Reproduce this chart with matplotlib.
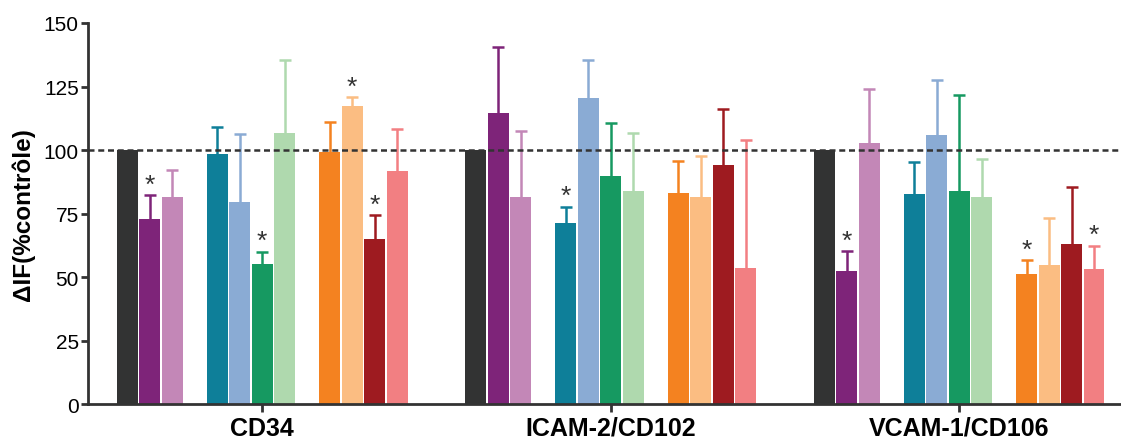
import matplotlib
matplotlib.use("Agg")
import matplotlib.pyplot as plt
import numpy as np

plt.rcParams['font.family'] = ['Liberation Sans', 'DejaVu Sans']

groups = ["CD34", "ICAM-2/CD102", "VCAM-1/CD106"]
series_colors = ["#323333", "#7e2479", "#c387b7",
                 "#0e7f99", "#8aabd4", "#169961", "#afd9ae",
                 "#f48220", "#fbbd82", "#9e1b20", "#f27f82"]

cd34_vals = [100, 73.1, 81.5, 98.3, 79.7, 55.1, 106.7, 99.1, 117.5, 65.0, 91.7]
cd34_err = [0, 9.1, 10.8, 10.9, 26.5, 4.9, 28.9, 11.8, 3.2, 9.4, 16.5]
cd34_star = [0, 1, 0, 0, 0, 1, 0, 0, 1, 1, 0]

icam_vals = [100, 114.7, 81.4, 71.4, 120.6, 90.0, 83.9, 83.3, 81.6, 94.0, 53.7]
icam_err = [0, 26.0, 26.0, 6.3, 15.0, 20.5, 22.7, 12.6, 16.2, 22.1, 50.1]
icam_star = [0, 0, 0, 1, 0, 0, 0, 0, 0, 0, 0]

vcam_vals = [100, 52.6, 102.9, 82.7, 105.8, 83.9, 81.6, 51.2, 54.9, 63.0, 53.4]
vcam_err = [0, 7.6, 21.3, 12.7, 21.6, 37.6, 14.9, 5.5, 18.5, 22.4, 9.0]
vcam_star = [0, 1, 0, 0, 0, 0, 0, 1, 0, 0, 1]

values = [cd34_vals, icam_vals, vcam_vals]
errors = [cd34_err, icam_err, vcam_err]
stars = [cd34_star, icam_star, vcam_star]

yticks = [0, 25, 50, 75, 100, 125, 150]

# layout: slot offsets inside a group (subgroups of 3, 4, 4 separated by one empty slot)
slot_offsets = np.array([0, 1, 2, 4, 5, 6, 7, 9, 10, 11, 12], dtype=float)
group_step = 15.5
bar_w = 0.93

fig = plt.figure(figsize=(11.21, 4.39), dpi=100)
ax = fig.add_axes([0.0789, 0.0765, 0.9211, 0.869])

for gi in range(len(groups)):
    xs = gi * group_step + slot_offsets
    for si, (x, v, e, s) in enumerate(zip(xs, values[gi], errors[gi], stars[gi])):
        c = series_colors[si]
        ax.bar(x, v, width=bar_w, color=c, zorder=2)
        if e > 0:
            _, caps, _ = ax.errorbar(x, v, yerr=[[0], [e]], fmt='none', ecolor=c,
                                     elinewidth=1.8, capsize=4, capthick=1.8, zorder=2)
            caps[0].set_visible(False)
        if s:
            ax.text(x, v + e - 0.5, "*", ha='center', va='bottom',
                    fontsize=19, color='#333333', zorder=3)

ax.axhline(100, color='#333333', lw=1.8, linestyle=(0, (2.4, 1.5)), zorder=4)

ax.set_xlim(-1.73, 44.2)
ax.set_ylim(0, 150)
ax.set_yticks(yticks)
ax.set_yticklabels([str(t) for t in yticks], fontsize=15)
centers = [gi * group_step + 6 for gi in range(len(groups))]
ax.set_xticks(centers)
ax.set_xticklabels(groups, fontsize=18, fontweight='bold')
ax.set_ylabel("ΔIF(%contrôle)", fontsize=17.5, fontweight='bold', labelpad=6)

for sp in ['top', 'right']:
    ax.spines[sp].set_visible(False)
for sp in ['left', 'bottom']:
    ax.spines[sp].set_linewidth(2)
    ax.spines[sp].set_color('#333333')
ax.tick_params(axis='y', length=5, width=2, color='#333333', pad=2)
ax.tick_params(axis='x', length=6, width=2, color='#333333', pad=2)

fig.savefig("out.png", dpi=100)
